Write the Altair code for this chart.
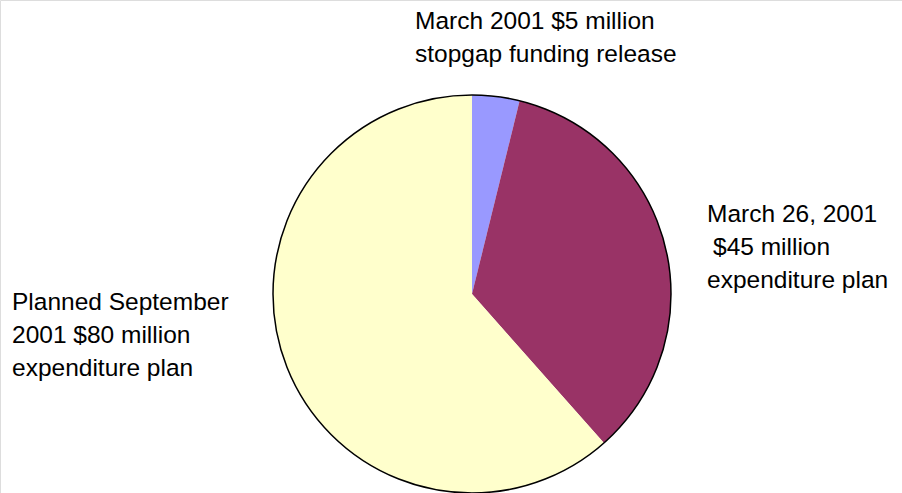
import math
import altair as alt
import pandas as pd

categories = ["March 2001 $5 million stopgap funding release",
              "March 26, 2001 $45 million expenditure plan",
              "Planned September 2001 $80 million expenditure plan"]
values = [5, 45, 80]
colors = ["#9999FF", "#993366", "#FFFFCC"]
top_label = ["March 2001 $5 million", "stopgap funding release"]
right_label = ["March 26, 2001", " $45 million", "expenditure plan"]
left_label = ["Planned September", "2001 $80 million", "expenditure plan"]

df = pd.DataFrame({"category": categories, "value": values, "idx": list(range(len(values)))})

CX, CY, R = 472, 294, 199
FONT = "Liberation Sans"
FS = 24.5
LH = 33

pie = alt.Chart(df).mark_arc(outerRadius=R, strokeWidth=0).encode(
    theta=alt.Theta("value:Q", stack=True),
    color=alt.Color("category:N", scale=alt.Scale(domain=categories, range=colors), legend=None),
    order=alt.Order("idx:Q"),
    x=alt.value(CX),
    y=alt.value(CY),
)

outline = alt.Chart(pd.DataFrame({"v": [1]})).mark_arc(
    outerRadius=R, fillOpacity=0, stroke="black", strokeWidth=1.5,
    theta=0, theta2=2 * math.pi
).encode(
    x=alt.value(CX),
    y=alt.value(CY),
)


def text_line(txt, lx, ly):
    indent = len(txt) - len(txt.lstrip(" "))
    return alt.Chart(pd.DataFrame({"t": [txt.strip()]})).mark_text(
        align="left", baseline="alphabetic", font=FONT, fontSize=FS, color="black"
    ).encode(text="t:N", x=alt.value(lx + indent * 6), y=alt.value(ly))


texts = []
for lines, (lx, ly) in [(top_label, (415, 29)), (right_label, (707, 222)), (left_label, (12, 310))]:
    for i, line in enumerate(lines):
        texts.append(text_line(line, lx, ly + i * LH))

chart = alt.layer(pie, outline, *texts).properties(
    width=902, height=493, padding=0, autosize=alt.AutoSizeParams(type="none")
).configure_view(stroke=None).configure(background="white")

chart.save("out.html", embed_options={"renderer": "svg", "actions": False})
